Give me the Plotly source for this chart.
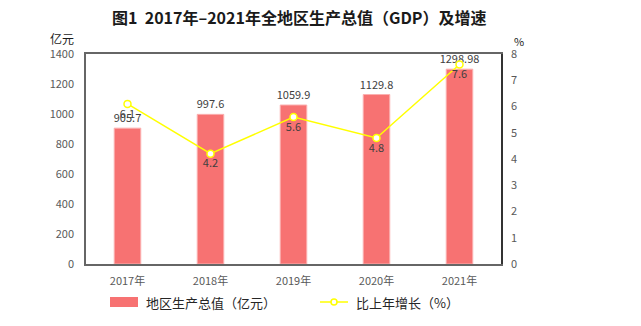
import plotly.graph_objects as go

years = ["2017年", "2018年", "2019年", "2020年", "2021年"]
gdp = [905.7, 997.6, 1059.9, 1129.8, 1298.98]
gdp_labels = ["905.7", "997.6", "1059.9", "1129.8", "1298.98"]
growth = [6.1, 4.2, 5.6, 4.8, 7.6]
growth_labels = ["6.1", "4.2", "5.6", "4.8", "7.6"]

font_family = "Noto Sans CJK SC, Noto Sans, sans-serif"
tick_color = "#595959"
label_color = "#404040"
bar_color = "#F77272"
line_color = "#FFFF00"

W, H = 641, 326
ML, MR, MT, MB = 86, 140, 54, 62
plot_w = W - ML - MR
plot_h = H - MT - MB


def px_x(x):
    return (x - ML) / plot_w


def px_y(y):
    return (H - MB - y) / plot_h


fig = go.Figure()

fig.add_trace(go.Bar(
    x=years, y=gdp, name="地区生产总值（亿元）",
    marker=dict(color=bar_color, line=dict(color="#FBB0B0", width=1)),
    width=0.32,
    text=gdp_labels, textposition="outside", cliponaxis=False,
    constraintext="none",
    textfont=dict(size=11, color=label_color, family=font_family),
    yaxis="y", showlegend=False,
))

fig.add_trace(go.Scatter(
    x=years, y=growth, name="比上年增长（%）",
    mode="lines+markers+text",
    line=dict(color=line_color, width=1.5),
    marker=dict(size=7, color="white", line=dict(color=line_color, width=1.5)),
    text=growth_labels, textposition="bottom center", cliponaxis=False,
    textfont=dict(size=11, color=label_color, family=font_family),
    yaxis="y2", showlegend=False,
))

# Legend drawn below the plot: swatch + caption for each series
legend_y = 302
shapes = [
    dict(type="rect", xref="paper", yref="paper",
         x0=px_x(110), x1=px_x(138), y0=px_y(297), y1=px_y(307),
         fillcolor=bar_color, line=dict(width=0)),
    dict(type="line", xref="paper", yref="paper",
         x0=px_x(320), x1=px_x(348), y0=px_y(legend_y), y1=px_y(legend_y),
         line=dict(color=line_color, width=1.5)),
    dict(type="circle", xref="paper", yref="paper",
         x0=px_x(331), x1=px_x(337), y0=px_y(299), y1=px_y(305),
         fillcolor="white", line=dict(color=line_color, width=1.5)),
]

annotations = [
    dict(text="<b>图1  2017年–2021年全地区生产总值（GDP）及增速</b>",
         x=px_x(299), y=px_y(17), xanchor="center", yanchor="middle",
         font=dict(size=16, color="#1a1a1a", family="Noto Sans CJK SC, serif")),
    dict(text="亿元", x=px_x(62), y=px_y(38), xanchor="center", yanchor="middle",
         font=dict(size=12, color="#1a1a1a")),
    dict(text="%", x=px_x(519), y=px_y(41), xanchor="center", yanchor="middle",
         font=dict(size=11, color="#1a1a1a")),
    dict(text="地区生产总值（亿元）", x=px_x(144), y=px_y(legend_y),
         xanchor="left", yanchor="middle",
         font=dict(size=13, color="#262626")),
    dict(text="比上年增长（%）", x=px_x(354), y=px_y(legend_y),
         xanchor="left", yanchor="middle",
         font=dict(size=13, color="#262626")),
]
for a in annotations:
    a.update(xref="paper", yref="paper", showarrow=False)

fig.update_layout(
    width=W, height=H,
    margin=dict(l=ML, r=MR, t=MT, b=MB),
    paper_bgcolor="white", plot_bgcolor="white",
    font=dict(family=font_family, size=11, color=tick_color),
    showlegend=False,
    xaxis=dict(
        showline=True, linecolor="#666666", linewidth=1.5, mirror=True,
        ticks="", tickfont=dict(size=11, color=tick_color),
        showgrid=False, ticklabelstandoff=6,
    ),
    yaxis=dict(
        range=[0, 1400], dtick=200, showgrid=False, zeroline=False,
        showline=True, linecolor="#666666", linewidth=1.5,
        ticks="", tickfont=dict(size=11, color=tick_color), ticklabelstandoff=8,
    ),
    yaxis2=dict(
        range=[0, 8], dtick=1, overlaying="y", side="right",
        showgrid=False, zeroline=False,
        showline=True, linecolor="#333333", linewidth=1.5,
        ticks="", tickfont=dict(size=11, color=tick_color), ticklabelstandoff=6,
    ),
    shapes=shapes,
    annotations=annotations,
)

fig.write_html("out.html")
